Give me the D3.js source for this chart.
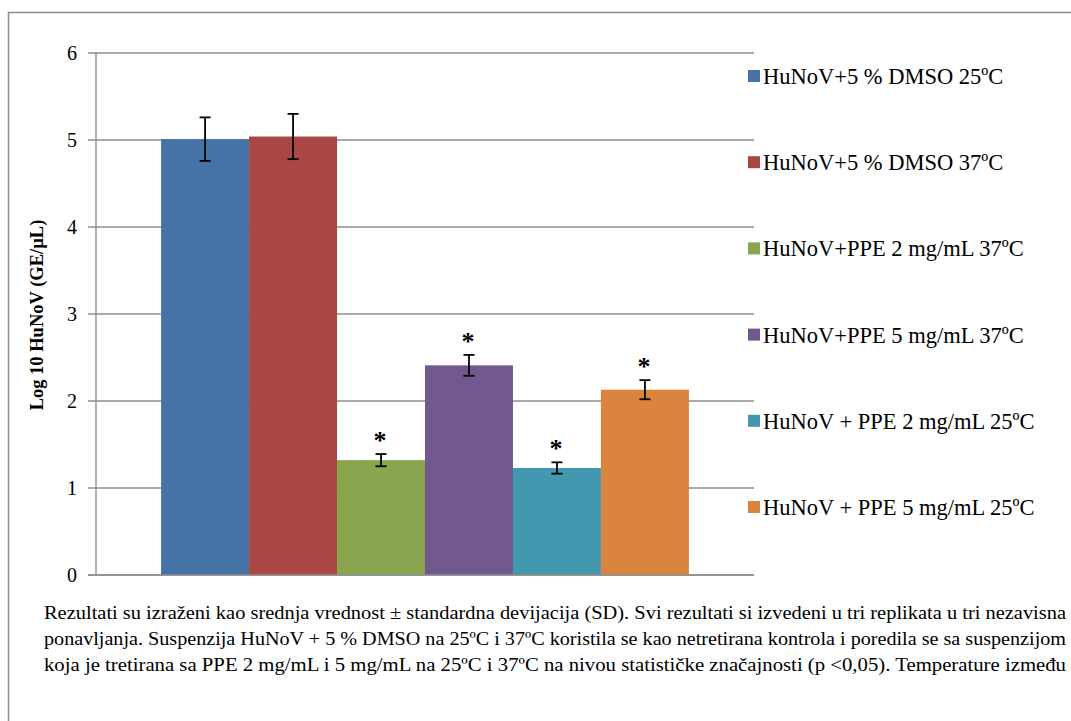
<!DOCTYPE html>
<html>
<head>
<meta charset="utf-8">
<script src="https://cdn.jsdelivr.net/npm/d3@7.9.0/dist/d3.min.js"></script>
<style>
  html, body { margin: 0; padding: 0; background: #fff; }
  svg { display: block; }
  svg text { font-family: 'Liberation Serif', 'Times New Roman', Tinos, 'DejaVu Serif', serif; }
</style>
</head>
<body>
<svg id="chart" width="1071" height="721"></svg>
<script>
// ---- data ----
const series = [
  "HuNoV+5 % DMSO 25ºC",
  "HuNoV+5 % DMSO 37ºC",
  "HuNoV+PPE 2 mg/mL 37ºC",
  "HuNoV+PPE 5 mg/mL 37ºC",
  "HuNoV + PPE 2 mg/mL 25ºC",
  "HuNoV + PPE 5 mg/mL 25ºC"
];
const means = [5.01, 5.04, 1.32, 2.41, 1.23, 2.13];
const sds = [0.25, 0.26, 0.07, 0.12, 0.065, 0.11];
const significant = [false, false, true, true, true, true];
const colors = ["#4572A7", "#AA4643", "#89A54E", "#71588F", "#4198AF", "#DB843D"];
const yTicks = [0, 1, 2, 3, 4, 5, 6];
const yTitle = "Log 10 HuNoV (GE/µL)";
const footnoteLines = [
  "Rezultati su izraženi kao srednja vrednost ± standardna devijacija (SD). Svi rezultati si izvedeni u tri replikata u tri nezavisna",
  "ponavljanja. Suspenzija HuNoV + 5 % DMSO na 25ºC i 37ºC koristila se kao netretirana kontrola i poredila se sa suspenzijom",
  "koja je tretirana sa PPE 2 mg/mL i 5 mg/mL na 25ºC i 37ºC na nivou statističke značajnosti (p <0,05). Temperature između"
];

const serif = "'Liberation Serif', 'Times New Roman', Tinos, 'DejaVu Serif', serif";

const data = series.map((name, i) => ({
  name, mean: means[i], sd: sds[i], sig: significant[i], color: colors[i]
}));

const svg = d3.select("#chart").attr("font-family", serif);
const plot = { left: 96, right: 754, top: 53, bottom: 575 };

// outer frame (runs off the right and bottom edge like the screenshot)
svg.append("rect")
  .attr("x", 8.5).attr("y", 12.5)
  .attr("width", 1100).attr("height", 800)
  .attr("fill", "none")
  .attr("stroke", "#8c8c8c")
  .attr("stroke-width", 1.5);

const y = d3.scaleLinear().domain([0, 6]).range([plot.bottom, plot.top]);
const x = d3.scaleBand()
  .domain(series)
  .range([plot.left, plot.right])
  .paddingInner(0)
  .paddingOuter(0.74);

// gridlines + tick marks
svg.append("g")
  .selectAll("line")
  .data(yTicks)
  .join("line")
  .attr("x1", plot.left - 8)
  .attr("x2", plot.right)
  .attr("y1", d => y(d))
  .attr("y2", d => y(d))
  .attr("stroke", "#8e8e8e")
  .attr("stroke-width", 1.4);

// y axis line
svg.append("line")
  .attr("x1", plot.left).attr("x2", plot.left)
  .attr("y1", y(6)).attr("y2", y(0))
  .attr("stroke", "#8e8e8e")
  .attr("stroke-width", 1.4);

// tick labels
svg.append("g")
  .selectAll("text")
  .data(yTicks)
  .join("text")
  .attr("x", 77)
  .attr("y", d => y(d) + 7)
  .attr("text-anchor", "end")
  .attr("font-family", serif)
  .attr("font-size", 20)
  .attr("fill", "#000")
  .text(d => d);

// y axis title
svg.append("text")
  .attr("transform", `translate(43,${(plot.top + plot.bottom) / 2 + 1}) rotate(-90)`)
  .attr("text-anchor", "middle")
  .attr("font-family", serif)
  .attr("font-size", 18.5)
  .attr("font-weight", "bold")
  .text(yTitle);

// bars
svg.append("g")
  .selectAll("rect")
  .data(data)
  .join("rect")
  .attr("x", d => x(d.name))
  .attr("y", d => y(d.mean))
  .attr("width", x.bandwidth())
  .attr("height", d => y(0) - y(d.mean))
  .attr("fill", d => d.color);

// x axis line on top of bars
svg.append("line")
  .attr("x1", plot.left - 8).attr("x2", plot.right)
  .attr("y1", y(0)).attr("y2", y(0))
  .attr("stroke", "#8e8e8e")
  .attr("stroke-width", 1.6);

// error bars
const err = svg.append("g")
  .attr("stroke", "#000")
  .attr("stroke-width", 1.8)
  .selectAll("g")
  .data(data)
  .join("g")
  .attr("transform", d => `translate(${x(d.name) + x.bandwidth() / 2},0)`);

err.append("line")
  .attr("y1", d => y(d.mean + d.sd))
  .attr("y2", d => y(d.mean - d.sd));
err.append("line")
  .attr("x1", -5.5).attr("x2", 5.5)
  .attr("y1", d => y(d.mean + d.sd))
  .attr("y2", d => y(d.mean + d.sd));
err.append("line")
  .attr("x1", -5.5).attr("x2", 5.5)
  .attr("y1", d => y(d.mean - d.sd))
  .attr("y2", d => y(d.mean - d.sd));

// significance marks
svg.append("g")
  .selectAll("text")
  .data(data.filter(d => d.sig))
  .join("text")
  .attr("x", d => x(d.name) + x.bandwidth() / 2 - 1)
  .attr("y", d => y(d.mean + d.sd) - 5)
  .attr("text-anchor", "middle")
  .attr("font-family", serif)
  .attr("font-size", 26)
  .attr("font-weight", "bold")
  .text("*");

// legend
const legend = svg.append("g")
  .selectAll("g")
  .data(data)
  .join("g")
  .attr("transform", (d, i) => `translate(748,${76 + i * 86.2})`);

legend.append("rect")
  .attr("x", 0).attr("y", -6)
  .attr("width", 12).attr("height", 12)
  .attr("fill", d => d.color);

legend.append("text")
  .attr("x", 15)
  .attr("y", 8)
  .attr("font-family", serif)
  .attr("font-size", 22.5)
  .attr("fill", "#000")
  .text(d => d.name);

// footnote, justified across the frame
svg.append("g")
  .selectAll("text")
  .data(footnoteLines)
  .join("text")
  .attr("x", 44)
  .attr("y", (d, i) => 619 + i * 26)
  .attr("font-family", serif)
  .attr("font-size", 19)
  .attr("textLength", 1022)
  .attr("lengthAdjust", "spacingAndGlyphs")
  .text(d => d);
</script>
</body>
</html>
